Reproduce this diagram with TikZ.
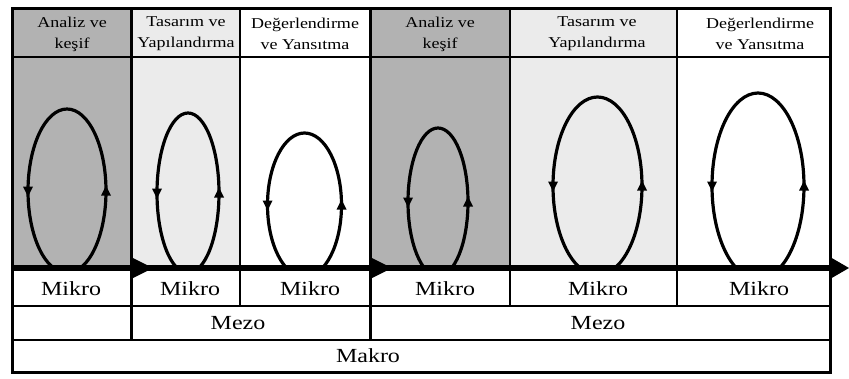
\documentclass[tikz,border=0pt]{standalone}
\usepackage{fontspec}
\setmainfont[FakeStretch=1.2]{Liberation Serif}
\usetikzlibrary{arrows.meta}
\definecolor{darkcol}{HTML}{B2B2B2}
\definecolor{lightcol}{HTML}{EBEBEB}
\tikzset{
  thickrule/.style={line width=3pt},
  thinrule/.style={line width=1.1pt},
  hdr/.style={font=\fontsize{15}{21}\selectfont, align=center, inner sep=0pt},
  lvl/.style={font=\fontsize{20}{22}\selectfont, inner sep=0pt},
  loopline/.style={line width=3.2pt},
}
\newcommand\myloop[4]{%
  \begin{scope}
    \clip (#1-70,20) rectangle (#1+70,265);
    \draw[loopline] (#1,#2) ellipse [x radius=#3, y radius=#4];
  \end{scope}
  \fill (#1-#3-5,#2-4.5) -- (#1-#3+5,#2-4.5) -- (#1-#3,#2+5.5) -- cycle;
  \fill (#1+#3-5,#2+4.5) -- (#1+#3+5,#2+4.5) -- (#1+#3,#2-5.5) -- cycle;
}
\begin{document}
\begin{tikzpicture}[x=1pt,y=-1pt]
\useasboundingbox (0,0) rectangle (849,378);
% column fills
\fill[darkcol] (12,8) rectangle (131,268);
\fill[lightcol] (131,8) rectangle (240,268);
\fill[darkcol] (370,8) rectangle (510,268);
\fill[lightcol] (510,8) rectangle (677,268);
% header line
\draw[thinrule] (12,57) -- (830,57);
% thin dividers
\draw[thinrule] (240,8) -- (240,306);
\draw[thinrule] (510,8) -- (510,306);
\draw[thinrule] (677,8) -- (677,306);
% row lines
\draw[thinrule] (12,306) -- (830,306);
\draw[thinrule] (12,340) -- (830,340);
% thick dividers
\draw[thickrule] (131,8) -- (131,340);
\draw[thickrule] (370,8) -- (370,340);
% loops
\myloop{67}{191}{39}{82}
\myloop{188}{193}{31}{80}
\myloop{304.5}{205}{37}{72}
\myloop{438}{202}{30}{74}
\myloop{597.5}{186}{44.5}{89}
\myloop{758}{186}{46}{93}
% axis
\draw[line width=6pt] (12,268) -- (834,268);
\fill (131,257) -- (153,268) -- (131,279) -- cycle;
\fill (370,257) -- (392,268) -- (370,279) -- cycle;
\fill (830,257) -- (849,268) -- (830,279) -- cycle;
% frame
\draw[thickrule] (12,8) rectangle (830,372);
% header texts
\node[hdr] (h1) at (72,34) {Analiz ve\\keşif};
\node[hdr] (h2) at (186,34) {Tasarım ve\\Yapılandırma};
\node[hdr] (h3) at (305,34) {Değerlendirme\\ve Yansıtma};
\node[hdr] (h4) at (440,34) {Analiz ve\\keşif};
\node[hdr] (h5) at (597,34) {Tasarım ve\\Yapılandırma};
\node[hdr] (h6) at (760,34) {Değerlendirme\\ve Yansıtma};
% level texts
\node[lvl] (m1) at (71,289) {Mikro};
\node[lvl] (m2) at (190,289) {Mikro};
\node[lvl] (m3) at (310,289) {Mikro};
\node[lvl] (m4) at (445,289) {Mikro};
\node[lvl] (m5) at (598,289) {Mikro};
\node[lvl] (m6) at (759,289) {Mikro};
\node[lvl] (z1) at (238,323) {Mezo};
\node[lvl] (z2) at (598,323) {Mezo};
\node[lvl] (k1) at (368,356) {Makro};
\end{tikzpicture}
\end{document}
